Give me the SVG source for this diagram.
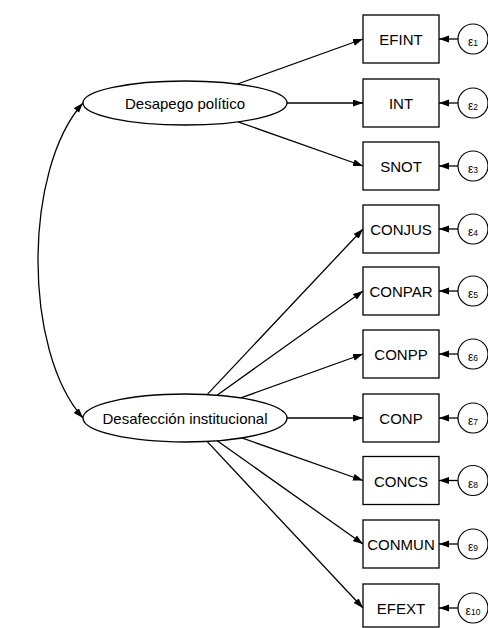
<svg xmlns="http://www.w3.org/2000/svg" width="488" height="628" viewBox="0 0 488 628">
<style>
.box{fill:#fff;stroke:#000;stroke-width:1.3}
.lat{fill:#fff;stroke:#000;stroke-width:1.3}
.err{fill:#fff;stroke:#000;stroke-width:1.2}
.ln{fill:none;stroke:#000;stroke-width:1.3;marker-end:url(#ah)}
.cov{fill:none;stroke:#000;stroke-width:1.3;marker-start:url(#ah2);marker-end:url(#ah)}
text{font-family:"Liberation Sans",Arial,sans-serif;fill:#000}
.t{font-size:15px;text-anchor:middle}
.e{font-size:12px;text-anchor:middle}
.s{font-size:8.5px}
</style>
<defs>
<marker id="ah" markerUnits="userSpaceOnUse" markerWidth="11" markerHeight="8" refX="10" refY="3.5" orient="auto"><path d="M0,0 L10,3.5 L0,7 z" fill="#000"/></marker>
<marker id="ah2" markerUnits="userSpaceOnUse" markerWidth="11" markerHeight="8" refX="10" refY="3.5" orient="auto-start-reverse"><path d="M0,0 L10,3.5 L0,7 z" fill="#000"/></marker>
</defs>
<rect width="488" height="628" fill="#fff"/>
<g id="connectors">
<path class="cov" d="M83,103 C23,170 23,351 83,418"/>
<line class="ln" x1="237.5" y1="84" x2="363" y2="39"/>
<line class="ln" x1="287" y1="103" x2="363" y2="103"/>
<line class="ln" x1="238" y1="121.8" x2="363" y2="166"/>
<line class="ln" x1="207.1" y1="394.6" x2="363" y2="229"/>
<line class="ln" x1="217" y1="395.2" x2="363" y2="291"/>
<line class="ln" x1="240.8" y1="397.9" x2="363" y2="354"/>
<line class="ln" x1="287" y1="418" x2="363" y2="418"/>
<line class="ln" x1="241.8" y1="437.9" x2="363" y2="480.5"/>
<line class="ln" x1="217.2" y1="440.8" x2="363" y2="544"/>
<line class="ln" x1="207" y1="441.4" x2="363" y2="608"/>
<line class="ln" x1="458" y1="39" x2="439" y2="39"/>
<line class="ln" x1="458" y1="103" x2="439" y2="103"/>
<line class="ln" x1="458" y1="166" x2="439" y2="166"/>
<line class="ln" x1="458" y1="229" x2="439" y2="229"/>
<line class="ln" x1="458" y1="291" x2="439" y2="291"/>
<line class="ln" x1="458" y1="354" x2="439" y2="354"/>
<line class="ln" x1="458" y1="418" x2="439" y2="418"/>
<line class="ln" x1="458" y1="480.5" x2="439" y2="480.5"/>
<line class="ln" x1="458" y1="544" x2="439" y2="544"/>
<line class="ln" x1="458" y1="608" x2="439" y2="608"/>
</g>
<g id="lat1"><ellipse class="lat" cx="185" cy="103" rx="102" ry="22"/><text class="t" x="185" y="108.5">Desapego político</text></g>
<g id="lat2"><ellipse class="lat" cx="185" cy="418" rx="102" ry="24"/><text class="t" x="185" y="423.5">Desafección institucional</text></g>
<g id="EFINT"><rect class="box" x="363" y="15" width="76" height="48"/><text class="t" x="401" y="45">EFINT</text></g>
<g id="INT"><rect class="box" x="363" y="79" width="76" height="48"/><text class="t" x="401" y="109">INT</text></g>
<g id="SNOT"><rect class="box" x="363" y="142" width="76" height="48"/><text class="t" x="401" y="172">SNOT</text></g>
<g id="CONJUS"><rect class="box" x="363" y="205" width="76" height="48"/><text class="t" x="401" y="235">CONJUS</text></g>
<g id="CONPAR"><rect class="box" x="363" y="267" width="76" height="48"/><text class="t" x="401" y="297">CONPAR</text></g>
<g id="CONPP"><rect class="box" x="363" y="330" width="76" height="48"/><text class="t" x="401" y="360">CONPP</text></g>
<g id="CONP"><rect class="box" x="363" y="394" width="76" height="48"/><text class="t" x="401" y="424">CONP</text></g>
<g id="CONCS"><rect class="box" x="363" y="456.5" width="76" height="48"/><text class="t" x="401" y="486.5">CONCS</text></g>
<g id="CONMUN"><rect class="box" x="363" y="520" width="76" height="48"/><text class="t" x="401" y="550">CONMUN</text></g>
<g id="EFEXT"><rect class="box" x="363" y="584" width="76" height="43"/><text class="t" x="401" y="614">EFEXT</text></g>
<g id="e1"><circle class="err" cx="473" cy="39" r="15"/><text class="e" x="473" y="46">ε<tspan class="s">1</tspan></text></g>
<g id="e2"><circle class="err" cx="473" cy="103" r="15"/><text class="e" x="473" y="110">ε<tspan class="s">2</tspan></text></g>
<g id="e3"><circle class="err" cx="473" cy="166" r="15"/><text class="e" x="473" y="173">ε<tspan class="s">3</tspan></text></g>
<g id="e4"><circle class="err" cx="473" cy="229" r="15"/><text class="e" x="473" y="236">ε<tspan class="s">4</tspan></text></g>
<g id="e5"><circle class="err" cx="473" cy="291" r="15"/><text class="e" x="473" y="298">ε<tspan class="s">5</tspan></text></g>
<g id="e6"><circle class="err" cx="473" cy="354" r="15"/><text class="e" x="473" y="361">ε<tspan class="s">6</tspan></text></g>
<g id="e7"><circle class="err" cx="473" cy="418" r="15"/><text class="e" x="473" y="425">ε<tspan class="s">7</tspan></text></g>
<g id="e8"><circle class="err" cx="473" cy="480.5" r="15"/><text class="e" x="473" y="487.5">ε<tspan class="s">8</tspan></text></g>
<g id="e9"><circle class="err" cx="473" cy="544" r="15"/><text class="e" x="473" y="551">ε<tspan class="s">9</tspan></text></g>
<g id="e10"><circle class="err" cx="473" cy="608" r="15"/><text class="e" x="473" y="615">ε<tspan class="s">10</tspan></text></g>
</svg>
